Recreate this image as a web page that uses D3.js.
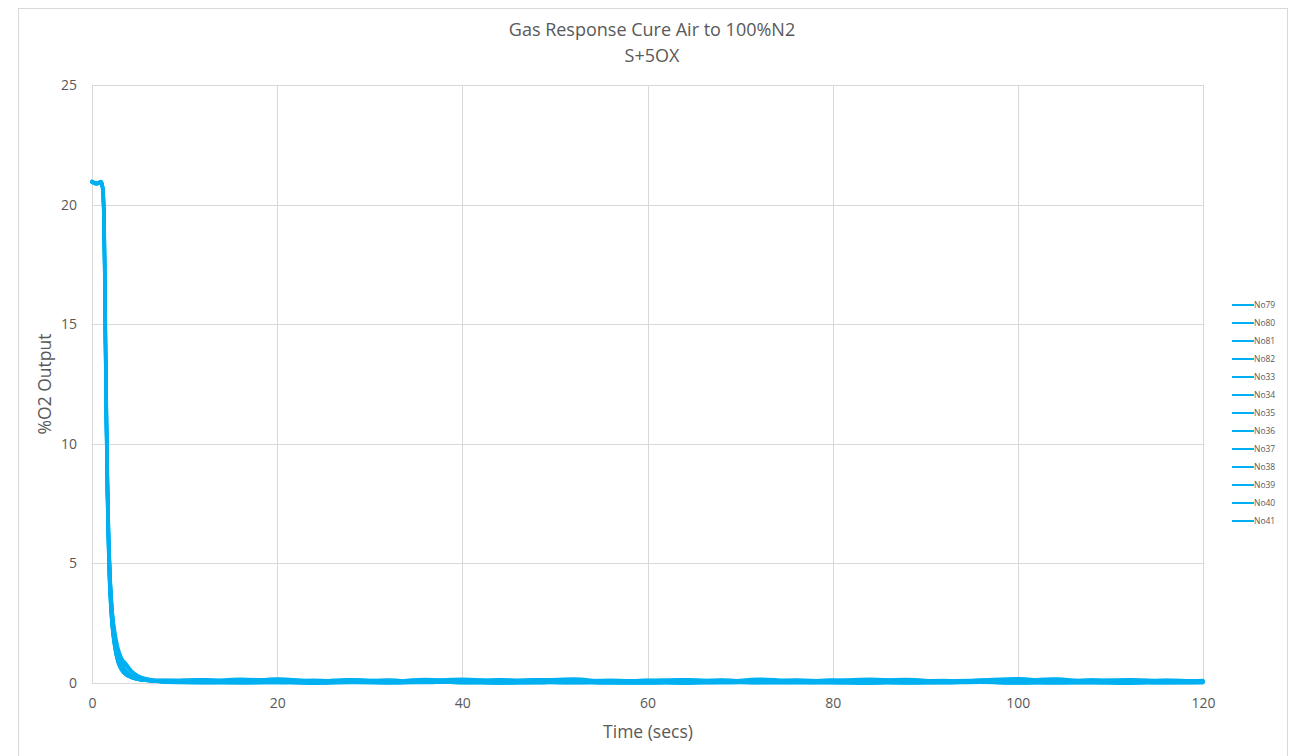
<!DOCTYPE html>
<html>
<head>
<meta charset="utf-8">
<script src="https://cdn.jsdelivr.net/npm/d3@7"></script>
<style>
  body { margin: 0; background: #fff; }
  text { font-family: "Open Sans", Lato, sans-serif; }
</style>
</head>
<body>
<div id="chart"></div>
<script>
(() => {
  const width = 1296;
  const height = 756;

  // time grid (secs): dense through the drop, sparse along the flat tail
  const headTimes = [0, 0.5, 1.0, 1.2, 1.35, 1.5, 1.65, 1.8, 2.0, 2.2, 2.5, 2.8, 3.2, 3.7, 4.3, 5.0, 5.8, 6.8];
  const tailTimes = [8, 12, 16, 20, 24, 28, 32, 36, 40, 44, 48, 52, 56, 60, 64, 68, 72, 76, 80, 84, 88, 92, 96, 100, 104, 108, 112, 116, 120];

  const seriesNames = ["No79", "No80", "No81", "No82", "No33", "No34", "No35", "No36", "No37", "No38", "No39", "No40", "No41"];

  // %O2
  const heads = [
    [20.95, 20.88, 20.95, 20.5, 18.0, 12.5, 8.5, 5.8, 3.8, 2.6, 1.6, 1.0, 0.62, 0.38, 0.25, 0.17, 0.12, 0.09],
    [20.98, 20.9, 20.93, 20.2, 17.0, 11.5, 7.6, 5.0, 3.2, 2.2, 1.35, 0.85, 0.52, 0.33, 0.22, 0.15, 0.1, 0.08],
    [20.93, 20.86, 20.95, 20.7, 19.0, 14.0, 9.6, 6.6, 4.3, 3.0, 1.9, 1.25, 0.8, 0.5, 0.3, 0.2, 0.14, 0.1],
    [20.96, 20.89, 20.98, 20.6, 18.5, 13.2, 9.0, 6.2, 4.1, 2.9, 1.95, 1.4, 0.95, 0.7, 0.45, 0.28, 0.18, 0.12],
    [20.94, 20.87, 20.95, 20.4, 17.6, 12.0, 8.0, 5.4, 3.5, 2.4, 1.5, 0.95, 0.58, 0.36, 0.24, 0.16, 0.11, 0.08],
    [20.97, 20.88, 20.93, 20.3, 17.3, 11.8, 7.8, 5.2, 3.3, 2.3, 1.4, 0.9, 0.55, 0.34, 0.22, 0.15, 0.1, 0.07],
    [20.95, 20.9, 20.97, 20.65, 18.8, 13.6, 9.3, 6.4, 4.2, 3.0, 2.1, 1.5, 1.05, 0.8, 0.5, 0.3, 0.19, 0.13],
    [20.93, 20.85, 20.94, 20.45, 17.8, 12.2, 8.2, 5.5, 3.6, 2.5, 1.55, 0.98, 0.6, 0.37, 0.24, 0.16, 0.11, 0.08],
    [20.96, 20.88, 20.96, 20.55, 18.3, 12.9, 8.8, 6.0, 3.9, 2.7, 1.7, 1.1, 0.68, 0.42, 0.27, 0.18, 0.12, 0.09],
    [20.98, 20.89, 20.95, 20.25, 17.2, 11.6, 7.7, 5.1, 3.3, 2.25, 1.4, 0.88, 0.54, 0.33, 0.21, 0.14, 0.1, 0.07],
    [20.94, 20.87, 20.96, 20.5, 18.1, 12.6, 8.6, 5.9, 3.9, 2.7, 1.75, 1.15, 0.72, 0.45, 0.28, 0.18, 0.12, 0.09],
    [20.95, 20.88, 20.93, 20.35, 17.5, 12.0, 8.0, 5.3, 3.5, 2.4, 1.5, 0.94, 0.57, 0.35, 0.23, 0.15, 0.11, 0.08],
    [20.97, 20.9, 20.97, 20.6, 18.6, 13.4, 9.1, 6.3, 4.1, 2.8, 1.8, 1.2, 0.75, 0.48, 0.3, 0.19, 0.13, 0.09]
  ];

  // %O2 noise along the 100% N2 plateau
  const tails = [
    [0.07, 0.1, 0.05, 0.12, 0.06, 0.03, 0.09, 0.13, 0.05, 0.02, 0.08, 0.12, 0.04, 0.06, 0.11, 0.07, 0.02, 0.05, 0.1, 0.04, 0.08, 0.05, 0.12, 0.06, 0.03, 0.1, 0.05, 0.08, 0.04],
    [0.04, 0.02, 0.05, 0.01, 0.04, 0.06, 0.0, 0.03, 0.05, 0.01, 0.03, 0.0, 0.04, 0.02, 0.03, 0.06, 0.01, 0.02, 0.05, 0.03, 0.0, 0.04, 0.02, 0.05, 0.01, 0.03, 0.02, 0.05, 0.02],
    [0.1, 0.14, 0.07, 0.16, 0.08, 0.05, 0.12, 0.07, 0.1, 0.15, 0.06, 0.09, 0.13, 0.07, 0.04, 0.11, 0.09, 0.05, 0.14, 0.07, 0.1, 0.05, 0.09, 0.16, 0.07, 0.11, 0.05, 0.13, 0.08],
    [0.13, 0.09, 0.17, 0.1, 0.07, 0.15, 0.09, 0.06, 0.14, 0.08, 0.11, 0.18, 0.06, 0.1, 0.15, 0.08, 0.12, 0.05, 0.1, 0.17, 0.08, 0.12, 0.06, 0.1, 0.18, 0.08, 0.14, 0.09, 0.06],
    [0.05, 0.02, 0.04, 0.07, 0.01, 0.04, 0.02, 0.06, 0.0, 0.04, 0.01, 0.06, 0.03, 0.0, 0.04, 0.02, 0.06, 0.03, 0.01, 0.05, 0.07, 0.02, 0.03, 0.0, 0.04, 0.06, 0.01, 0.03, 0.05],
    [0.02, 0.0, -0.01, 0.02, -0.02, 0.01, 0.0, 0.03, 0.01, -0.01, 0.0, 0.02, -0.01, 0.01, -0.02, 0.02, 0.0, 0.01, 0.0, -0.02, 0.01, 0.0, 0.02, -0.01, 0.01, 0.0, -0.02, 0.01, 0.0],
    [0.11, 0.15, 0.08, 0.18, 0.09, 0.13, 0.06, 0.11, 0.17, 0.08, 0.15, 0.09, 0.05, 0.13, 0.11, 0.07, 0.17, 0.09, 0.06, 0.12, 0.16, 0.07, 0.13, 0.19, 0.09, 0.11, 0.15, 0.07, 0.11],
    [0.05, 0.08, 0.03, 0.07, 0.05, 0.1, 0.02, 0.05, 0.07, 0.03, 0.09, 0.02, 0.05, 0.1, 0.03, 0.07, 0.02, 0.08, 0.05, 0.03, 0.07, 0.1, 0.03, 0.05, 0.08, 0.02, 0.07, 0.05, 0.03],
    [0.08, 0.06, 0.12, 0.05, 0.1, 0.06, 0.14, 0.04, 0.08, 0.12, 0.06, 0.05, 0.1, 0.08, 0.15, 0.05, 0.07, 0.11, 0.04, 0.08, 0.13, 0.05, 0.1, 0.06, 0.08, 0.14, 0.05, 0.09, 0.06],
    [0.03, 0.01, 0.04, 0.02, 0.0, 0.03, 0.01, 0.02, 0.05, -0.01, 0.02, 0.04, 0.01, -0.01, 0.03, 0.0, 0.04, 0.01, 0.02, 0.05, 0.0, 0.01, 0.04, 0.02, 0.0, 0.01, 0.04, 0.0, 0.02],
    [0.07, 0.11, 0.05, 0.09, 0.13, 0.04, 0.07, 0.11, 0.05, 0.09, 0.04, 0.13, 0.07, 0.05, 0.09, 0.14, 0.04, 0.07, 0.11, 0.05, 0.04, 0.09, 0.13, 0.05, 0.07, 0.11, 0.09, 0.04, 0.07],
    [0.04, 0.06, 0.02, 0.01, 0.06, 0.03, 0.04, 0.01, 0.08, 0.03, 0.06, 0.01, 0.04, 0.03, 0.0, 0.06, 0.04, 0.01, 0.03, 0.07, 0.01, 0.04, 0.03, 0.06, 0.01, 0.04, 0.03, 0.01, 0.06],
    [0.09, 0.12, 0.06, 0.1, 0.05, 0.13, 0.08, 0.16, 0.06, 0.1, 0.14, 0.05, 0.08, 0.12, 0.06, 0.1, 0.05, 0.14, 0.08, 0.06, 0.12, 0.05, 0.1, 0.08, 0.16, 0.06, 0.1, 0.12, 0.08]
  ];

  const xTicks = [0, 20, 40, 60, 80, 100, 120];
  const yTicks = [0, 5, 10, 15, 20, 25];

  const lineColor = "#00b0f0";
  const gridColor = "#d9d9d9";
  const textColor = "#595959";

  const margin = { top: 85, right: 93, bottom: 73, left: 92 };

  const times = headTimes.concat(tailTimes);
  const series = seriesNames.map((name, i) => ({
    name,
    values: heads[i].concat(tails[i]).map((v, j) => ({ t: times[j], v }))
  }));

  const x = d3.scaleLinear()
    .domain([0, 120])
    .range([margin.left, width - margin.right]);

  const y = d3.scaleLinear()
    .domain([0, 25])
    .range([height - margin.bottom, margin.top]);

  const svg = d3.select("#chart")
    .append("svg")
    .attr("width", width)
    .attr("height", height)
    .style("display", "block");

  // chart area border
  svg.append("rect")
    .attr("x", 18.5)
    .attr("y", 8.5)
    .attr("width", 1269)
    .attr("height", 760)
    .attr("fill", "#fff")
    .attr("stroke", gridColor);

  // gridlines
  svg.append("g")
    .selectAll("line")
    .data(yTicks)
    .join("line")
    .attr("x1", x(0))
    .attr("x2", x(120))
    .attr("y1", d => Math.round(y(d)) + 0.5)
    .attr("y2", d => Math.round(y(d)) + 0.5)
    .attr("stroke", gridColor);

  svg.append("g")
    .selectAll("line")
    .data(xTicks)
    .join("line")
    .attr("x1", d => Math.round(x(d)) + 0.5)
    .attr("x2", d => Math.round(x(d)) + 0.5)
    .attr("y1", y(0))
    .attr("y2", y(25))
    .attr("stroke", gridColor);

  // axes (labels only, Excel style)
  const xAxis = svg.append("g")
    .attr("transform", `translate(0,${y(0)})`)
    .call(d3.axisBottom(x).tickValues(xTicks).tickSize(0).tickPadding(15));
  const yAxis = svg.append("g")
    .attr("transform", `translate(${x(0)},0)`)
    .call(d3.axisLeft(y).tickValues(yTicks).tickSize(0).tickPadding(15));

  [xAxis, yAxis].forEach(a => {
    a.select(".domain").remove();
    a.selectAll("text")
      .attr("fill", textColor)
      .style("font-size", "14px")
      .style("font-family", "'Open Sans', Lato, sans-serif");
  });

  // series lines
  const line = d3.line()
    .x(d => x(d.t))
    .y(d => y(d.v))
    .curve(d3.curveMonotoneX);

  svg.append("g")
    .selectAll("path")
    .data(series)
    .join("path")
    .attr("d", d => line(d.values))
    .attr("fill", "none")
    .attr("stroke", lineColor)
    .attr("stroke-width", 3)
    .attr("stroke-linejoin", "round")
    .attr("stroke-linecap", "round");

  // titles
  svg.append("text")
    .attr("x", 652)
    .attr("y", 36)
    .attr("text-anchor", "middle")
    .attr("fill", textColor)
    .style("font-size", "18px")
    .text("Gas Response Cure Air to 100%N2");
  svg.append("text")
    .attr("x", 652)
    .attr("y", 62)
    .attr("text-anchor", "middle")
    .attr("fill", textColor)
    .style("font-size", "18px")
    .text("S+5OX");

  svg.append("text")
    .attr("x", 648)
    .attr("y", 738)
    .attr("text-anchor", "middle")
    .attr("fill", textColor)
    .style("font-size", "17.5px")
    .text("Time (secs)");

  svg.append("text")
    .attr("transform", `translate(51,${y(12.5)}) rotate(-90)`)
    .attr("text-anchor", "middle")
    .attr("fill", textColor)
    .style("font-size", "17.5px")
    .text("%O2 Output");

  // legend
  const legend = svg.append("g")
    .selectAll("g")
    .data(seriesNames)
    .join("g")
    .attr("transform", (d, i) => `translate(1232,${305 + i * 18})`);

  legend.append("line")
    .attr("x1", 0)
    .attr("x2", 22)
    .attr("stroke", lineColor)
    .attr("stroke-width", 2);

  legend.append("text")
    .attr("x", 22)
    .attr("y", 3)
    .attr("fill", textColor)
    .style("font-size", "8.5px")
    .text(d => d);
})();
</script>
</body>
</html>
